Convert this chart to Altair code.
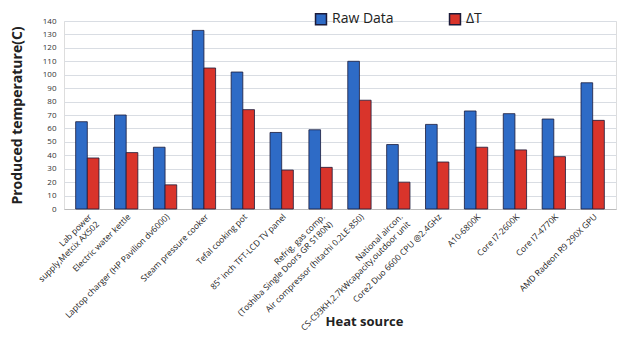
import altair as alt
import pandas as pd

sources = [
    "Lab power|supply,Metcix AX502",
    "Electric water kettle",
    "Laptop charger (HP Pavilion dv6000)",
    "Steam pressure cooker",
    "Tefal cooking pot",
    "85\" inch TFT-LCD TV panel",
    "Refrig. gas comp.|(Toshiba Single Doors GR S180N)",
    "Air compressor (hitachi 0.2LE-850)",
    "National aircon.|CS-C93KH,2.7kWcapacity,outdoor unit",
    "Core2 Duo 6600 CPU @2.4GHz",
    "A10-6800K",
    "Core I7-2600K",
    "Core I7-4770K",
    "AMD Radeon R9 290X GPU",
]
raw_data = [65, 70, 46, 133, 102, 57, 59, 110, 48, 63, 73, 71, 67, 94]
delta_t = [38, 42, 18, 105, 74, 29, 31, 81, 20, 35, 46, 44, 39, 66]
series = ["Raw Data", "ΔT"]
colors = ["#2e6bc6", "#d9342b"]
y_ticks = list(range(0, 141, 10))

rows = []
for s, r, d in zip(sources, raw_data, delta_t):
    rows.append({"source": s, "series": series[0], "value": r})
    rows.append({"source": s, "series": series[1], "value": d})
df = pd.DataFrame(rows)

chart = alt.Chart(df).mark_bar(stroke="#1b1b3a", strokeWidth=0.8).encode(
    x=alt.X(
        "source:N",
        sort=sources,
        scale=alt.Scale(paddingInner=0.4, paddingOuter=0.3),
        axis=alt.Axis(
            title="Heat source",
            titleY=106,
            titleX=300,
            labelAngle=-45,
            labelAlign="right",
            labelBaseline="top",
            labelExpr="split(datum.value, '|')",
            labelFont="Open Sans",
            labelFontSize=8.5,
            labelColor="#222",
            labelLimit=300,
            labelPadding=3,
            ticks=False,
            domainColor="#bbbbbb",
            titleFont="Open Sans",
            titleFontSize=13,
            titleFontWeight="bold",
            titleColor="#222",
        ),
    ),
    xOffset=alt.XOffset("series:N", sort=series),
    y=alt.Y(
        "value:Q",
        scale=alt.Scale(domain=[0, 140]),
        axis=alt.Axis(
            title="Produced temperature(C)",
            values=y_ticks,
            labelFont="Open Sans",
            labelFontSize=8,
            labelColor="#333",
            ticks=False,
            domain=False,
            gridColor="#d9dde3",
            gridWidth=1.2,
            titleFont="Open Sans",
            titleFontSize=14,
            titleFontWeight="bold",
            titleColor="#222",
            titlePadding=18,
            labelPadding=8,
        ),
    ),
    color=alt.Color(
        "series:N",
        sort=series,
        scale=alt.Scale(domain=series, range=colors),
        legend=alt.Legend(
            title=None,
            orient="none",
            legendX=250,
            legendY=-9,
            direction="horizontal",
            symbolType="square",
            symbolSize=120,
            symbolStrokeColor="#1b1b3a",
            labelFont="Open Sans",
            labelFontSize=14,
            labelColor="#222",
            columnPadding=52,
        ),
    ),
).properties(
    width=552,
    height=188,
    padding={"left": 2, "top": 4, "right": 2, "bottom": 0},
).configure_view(stroke=None).configure(background="white")

chart.save("out.html", embed_options={"renderer": "svg", "actions": False})
